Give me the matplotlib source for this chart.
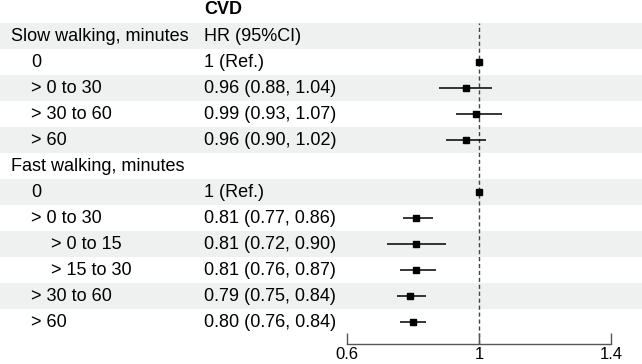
import numpy as np
import matplotlib.pyplot as plt

plt.rcParams["font.family"] = ["Liberation Sans", "DejaVu Sans"]

labels = ["Slow walking, minutes", "0", "> 0 to 30", "> 30 to 60", "> 60",
          "Fast walking, minutes", "0", "> 0 to 30", "> 0 to 15", "> 15 to 30",
          "> 30 to 60", "> 60"]
indent = [0, 1, 1, 1, 1, 0, 1, 1, 2, 2, 1, 1]
hr_text = ["HR (95%CI)", "1 (Ref.)", "0.96 (0.88, 1.04)", "0.99 (0.93, 1.07)",
           "0.96 (0.90, 1.02)", "", "1 (Ref.)", "0.81 (0.77, 0.86)",
           "0.81 (0.72, 0.90)", "0.81 (0.76, 0.87)", "0.79 (0.75, 0.84)",
           "0.80 (0.76, 0.84)"]
hr = [np.nan, 1.00, 0.96, 0.99, 0.96, np.nan, 1.00, 0.81, 0.81, 0.81, 0.79, 0.80]
lo = [np.nan, 1.00, 0.88, 0.93, 0.90, np.nan, 1.00, 0.77, 0.72, 0.76, 0.75, 0.76]
hi = [np.nan, 1.00, 1.04, 1.07, 1.02, np.nan, 1.00, 0.86, 0.90, 0.87, 0.84, 0.84]
xticks = [0.6, 1.0, 1.4]
xticklabels = ["0.6", "1", "1.4"]

W, H = 642, 364
row_h = 26
row0 = 36  # pixel centre of first row
fs = 13

fig = plt.figure(figsize=(W / 100, H / 100), dpi=100)

# background / table axes, pixel x, row-index y
bg = fig.add_axes([0, 0, 1, 1])
bg.set_xlim(0, W)
bg.set_ylim((H - row0) / row_h, -row0 / row_h)
bg.axis("off")

n = len(labels)
for i in range(n):
    if i % 2 == 0:
        bg.axhspan(i - 0.5, i + 0.5, color="#eef1f0", lw=0)
    bg.text(11 + 20 * indent[i], i, labels[i], fontsize=fs, va="center", ha="left")
    bg.text(204, i, hr_text[i], fontsize=fs, va="center", ha="left")
bg.text(204, -1.02, "CVD", fontsize=fs, fontweight="bold", va="center", ha="left")

# forest axes
left, right = 347 / W, 611 / W
bottom, top = (H - 344) / H, (H - 23) / H
ax = fig.add_axes([left, bottom, right - left, top - bottom])
ax.patch.set_alpha(0)
ax.set_xlim(0.6, 1.4)
ax.set_ylim((344 - row0) / row_h, -0.5)
ax.axvline(1.0, color="#444444", lw=1.0, ls=(0, (3, 2)), zorder=1)

y = np.arange(n)
hr_a, lo_a, hi_a = np.array(hr), np.array(lo), np.array(hi)
ok = ~np.isnan(hr_a)
ax.hlines(y[ok], lo_a[ok], hi_a[ok], color="black", lw=1.1, zorder=2)
ax.plot(hr_a[ok], y[ok], "s", color="black", ms=5, zorder=3, clip_on=False)

for s in ["top", "left", "right"]:
    ax.spines[s].set_visible(False)
ax.spines["bottom"].set_color("#555555")
ax.spines["bottom"].set_linewidth(1.0)
ax.set_yticks([])
ax.set_xticks(xticks)
ax.set_xticklabels(xticklabels)
ax.tick_params(axis="x", direction="in", length=8, width=1.0, color="#555555",
               labelsize=12, pad=2)

fig.savefig("out.png", dpi=100)
